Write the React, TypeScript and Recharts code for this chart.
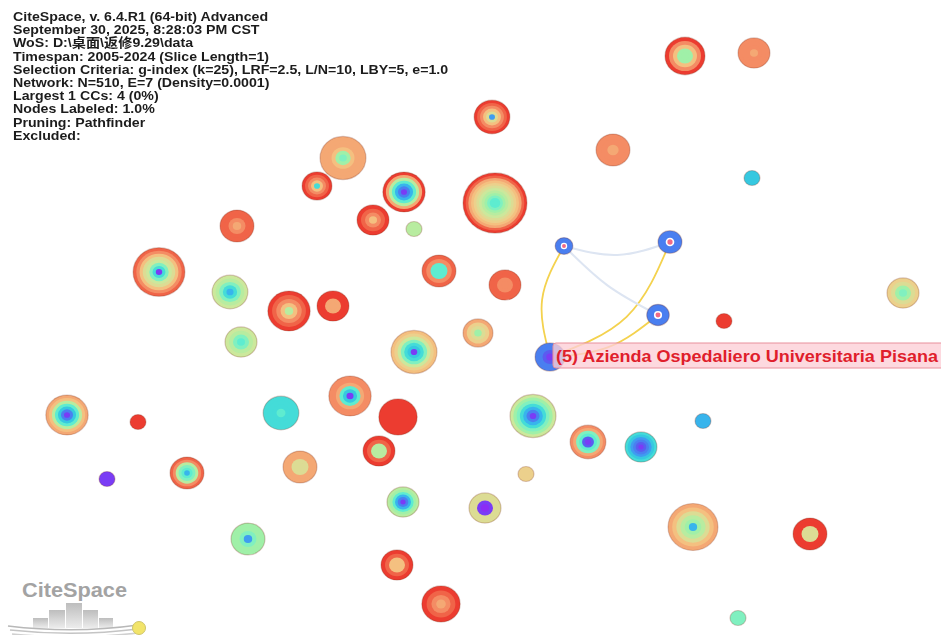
import { ScatterChart, Scatter, XAxis, YAxis, ZAxis } from "recharts";

const W = 941;
const H = 635;

// layout positions (network coordinates) of the 49 nodes
const nodeX = [
  685, 754, 613, 752, 492, 343, 317, 404, 495, 373, 414, 237, 159, 230, 289, 333, 241,
  439, 505, 478, 414, 350, 67, 138, 107, 187, 281, 398, 379, 533, 588, 641, 526, 403,
  485, 300, 248, 397, 441, 693, 810, 738, 703, 724, 903, 564, 670, 658, 550,
];
const nodeY = [
  56, 53, 150, 178, 117, 158, 186, 192, 203, 220, 229, 226, 272, 292, 311, 306, 342,
  271, 285, 333, 352, 396, 415, 422, 479, 473, 413, 417, 451, 416, 442, 447, 474, 502,
  508, 467, 539, 565, 604, 527, 534, 618, 421, 321, 293, 246, 242, 315, 357,
];
// citation counts
const nodeFreq = [
  25, 16, 18, 4, 20, 33, 14, 28, 64, 16, 4, 18, 42, 20, 28, 16, 16,
  18, 16, 14, 33, 28, 28, 4, 4, 18, 20, 23, 16, 33, 20, 16, 4, 16,
  16, 18, 18, 16, 23, 39, 18, 4, 4, 4, 16, 5, 9, 8, 14,
];
// citation rings, outer (recent) to inner (early)
const nodeYears: number[][] = [
  [2024, 2022, 2020, 2015, 2015],
  [2022, 2022, 2022, 2021],
  [2022, 2022, 2021],
  [2011],
  [2024, 2023, 2022, 2020, 2018, 2009],
  [2021, 2021, 2021, 2020, 2015, 2014],
  [2024, 2023, 2022, 2020, 2012],
  [2024, 2021, 2016, 2013, 2010, 2008, 2006],
  [2024, 2023, 2021, 2020, 2019, 2018, 2017, 2016, 2015, 2014, 2013, 2013],
  [2024, 2023, 2022, 2020],
  [2016],
  [2023, 2023, 2022, 2021],
  [2023, 2022, 2020, 2018, 2017, 2014, 2012, 2006],
  [2017, 2016, 2014, 2012, 2010],
  [2024, 2023, 2022, 2020, 2016],
  [2024, 2024, 2021, 2021],
  [2017, 2016, 2014, 2013],
  [2023, 2022, 2013, 2013],
  [2023, 2023, 2022, 2022],
  [2021, 2019, 2018, 2015],
  [2020, 2019, 2017, 2014, 2012, 2011, 2006],
  [2022, 2022, 2021, 2013, 2011, 2006],
  [2021, 2020, 2016, 2013, 2011, 2008, 2006],
  [2024],
  [2006],
  [2023, 2022, 2016, 2014, 2013, 2010],
  [2012, 2012, 2012, 2013],
  [2024],
  [2024, 2023, 2016, 2016],
  [2017, 2015, 2014, 2012, 2010, 2008, 2006],
  [2022, 2021, 2014, 2013, 2007, 2006],
  [2012, 2011, 2009, 2008, 2007, 2006],
  [2019],
  [2016, 2015, 2013, 2010, 2008, 2006],
  [2018, 2018, 2006, 2005],
  [2021, 2021, 2018, 2018],
  [2015, 2015, 2014, 2009],
  [2024, 2023, 2020, 2020],
  [2024, 2023, 2022, 2021],
  [2021, 2020, 2018, 2016, 2015, 2010],
  [2024, 2024, 2018, 2018],
  [2014],
  [2010],
  [2024],
  [2019, 2018, 2015, 2014],
  [2008, 2008, 2008, 2008],
  [2008, 2008, 2008, 2008],
  [2008, 2008, 2008, 2008],
  [2008, 2008, 2007, 2006],
];
const hubNodes = [45, 46, 47];
const labeledNodes = [48];
const nodeLabels = ["(5) Azienda Ospedaliero Universitaria Pisana"];

// links
const edgeSource = [45, 46, 47, 45, 45];
const edgeTarget = [48, 48, 48, 46, 47];
const edgeBend = [15, -24, -12, 11, 6];
const edgeKind = ["strong", "strong", "strong", "weak", "weak"];

const headerLines = [
  "CiteSpace, v. 6.4.R1 (64-bit) Advanced",
  "September 30, 2025, 8:28:03 PM CST",
  "WoS: D:\\桌面\\返修9.29\\data",
  "Timespan: 2005-2024 (Slice Length=1)",
  "Selection Criteria: g-index (k=25), LRF=2.5, L/N=10, LBY=5, e=1.0",
  "Network: N=510, E=7 (Density=0.0001)",
  "Largest 1 CCs: 4 (0%)",
  "Nodes Labeled: 1.0%",
  "Pruning: Pathfinder",
  "Excluded:",
];

const YEAR_COLORS = [
  "#8b2cf5", "#7a3cf5", "#5a5cf0", "#4a7ff0", "#3f9cf0", "#38b4ec", "#36c8e0",
  "#44dcd8", "#5eecd0", "#80f0c0", "#a0f0a8", "#b8eca0", "#cce89c", "#dcdc94",
  "#ecd08c", "#f4c080", "#f4a874", "#f48c64", "#f06448", "#ec3c30",
];
const yearColor = (y: number) => YEAR_COLORS[Math.max(0, Math.min(19, y - 2005))];
const ASPECT = 0.94;

const nodes = nodeX.map((x, i) => ({
  x,
  y: nodeY[i],
  freq: nodeFreq[i],
  years: nodeYears[i],
  hub: hubNodes.includes(i),
}));

const labelData = labeledNodes.map((n, i) => ({
  x: nodeX[n],
  y: nodeY[n],
  label: nodeLabels[i],
}));

const edgeLines = edgeSource.map((s, i) => {
  const a = nodes[s];
  const b = nodes[edgeTarget[i]];
  const dx = b.x - a.x;
  const dy = b.y - a.y;
  const len = Math.hypot(dx, dy);
  const mx = (a.x + b.x) / 2 + (-dy / len) * edgeBend[i];
  const my = (a.y + b.y) / 2 + (dx / len) * edgeBend[i];
  return [
    { x: a.x, y: a.y },
    { x: mx, y: my },
    { x: b.x, y: b.y },
  ];
});

function NodeShape(props: any) {
  const { cx, cy, payload, size } = props;
  const r = size ? Math.sqrt(size / Math.PI) : 4 * Math.sqrt(payload.freq);
  const years: number[] = payload.years;
  const n = years.length;
  return (
    <g style={{ filter: "blur(0.4px)" }}>
      {years.map((yr, i) => {
        const rr = r * (1 - i / n);
        return (
          <ellipse
            key={i}
            cx={cx}
            cy={cy}
            rx={rr}
            ry={rr * ASPECT}
            fill={yearColor(yr)}
            stroke={i === 0 ? "rgba(120,40,20,0.25)" : "none"}
            strokeWidth={1.2}
          />
        );
      })}
      {payload.hub && (
        <>
          <circle cx={cx} cy={cy} r={r * 0.36} fill="#ffffff" />
          <circle cx={cx} cy={cy} r={r * 0.22} fill="#f06a86" />
        </>
      )}
    </g>
  );
}

function LabelShape(props: any) {
  const { cx, cy, payload } = props;
  return (
    <g>
      <rect
        x={cx + 3}
        y={cy - 14}
        width={400}
        height={25}
        rx={3}
        fill="rgba(252,206,214,0.78)"
        stroke="#e8909c"
        strokeWidth={1}
      />
      <text
        x={cx + 6}
        y={cy + 5}
        fontFamily="'Liberation Sans', Arial, sans-serif"
        fontWeight="bold"
        fontSize={16.5}
        fill="#e01e2c"
        textLength={382}
        lengthAdjust="spacingAndGlyphs"
      >
        {payload.label}
      </text>
    </g>
  );
}

const EmptyShape = () => <g />;

function Logo() {
  return (
    <svg
      width={160}
      height={65}
      style={{ position: "absolute", left: 0, top: 570 }}
      viewBox="0 570 160 65"
    >
      <defs>
        <linearGradient id="barGrad" x1="0" y1="0" x2="0" y2="1">
          <stop offset="0%" stopColor="#bdbdbd" />
          <stop offset="100%" stopColor="#ececec" />
        </linearGradient>
      </defs>
      <text
        x={22}
        y={597}
        fontFamily="'Liberation Sans', Arial, sans-serif"
        fontWeight="bold"
        fontSize={20}
        fill="#a3a3a3"
        textLength={105}
        lengthAdjust="spacingAndGlyphs"
      >
        CiteSpace
      </text>
      <rect x={33} y={618} width={15} height={10} fill="url(#barGrad)" />
      <rect x={49} y={610} width={16} height={18} fill="url(#barGrad)" />
      <rect x={66} y={603} width={16} height={25} fill="url(#barGrad)" />
      <rect x={83} y={610} width={15} height={18} fill="url(#barGrad)" />
      <rect x={99} y={618} width={14} height={10} fill="url(#barGrad)" />
      <path d="M8 626 Q75 634 138 625" stroke="#b8b8b8" strokeWidth={1.5} fill="none" />
      <path d="M10 630 Q75 637 138 629" stroke="#c4c4c4" strokeWidth={1.5} fill="none" />
      <path d="M12 634 Q75 640 138 633" stroke="#d0d0d0" strokeWidth={1.5} fill="none" />
      <circle cx={139} cy={628} r={6.5} fill="#f2e46a" stroke="#cfc56a" strokeWidth={1} />
    </svg>
  );
}

export default function App() {
  return (
    <div style={{ position: "relative", width: W, height: H, background: "#ffffff" }}>
      <style>{"body{margin:0;}"}</style>
      <ScatterChart width={W} height={H} margin={{ top: 0, right: 0, bottom: 0, left: 0 }}>
        <XAxis type="number" dataKey="x" domain={[0, W]} hide />
        <YAxis type="number" dataKey="y" domain={[0, H]} reversed hide />
        <ZAxis type="number" dataKey="freq" domain={[0, 64]} range={[0, Math.PI * 32 * 32]} />
        {edgeLines.map((pts, i) => (
          <Scatter
            key={`edge-${i}`}
            data={pts}
            line={{
              stroke: edgeKind[i] === "strong" ? "#f4d24e" : "#dde5f2",
              strokeWidth: edgeKind[i] === "strong" ? 1.8 : 2,
            }}
            lineType="joint"
            lineJointType="natural"
            shape={EmptyShape}
            isAnimationActive={false}
          />
        ))}
        <Scatter data={nodes} shape={NodeShape} isAnimationActive={false} />
        <Scatter data={labelData} shape={LabelShape} isAnimationActive={false} />
      </ScatterChart>
      <div
        style={{
          position: "absolute",
          left: 13,
          top: 10,
          fontFamily: "'Liberation Sans', Arial, 'Noto Sans CJK SC', sans-serif",
          fontWeight: "bold",
          fontSize: 13,
          lineHeight: "13.2px",
          color: "#1c1c1c",
          transform: "scaleX(1.09)",
          transformOrigin: "left top",
          whiteSpace: "nowrap",
        }}
      >
        {headerLines.map((l) => (
          <div key={l}>{l}</div>
        ))}
      </div>
      <Logo />
    </div>
  );
}
